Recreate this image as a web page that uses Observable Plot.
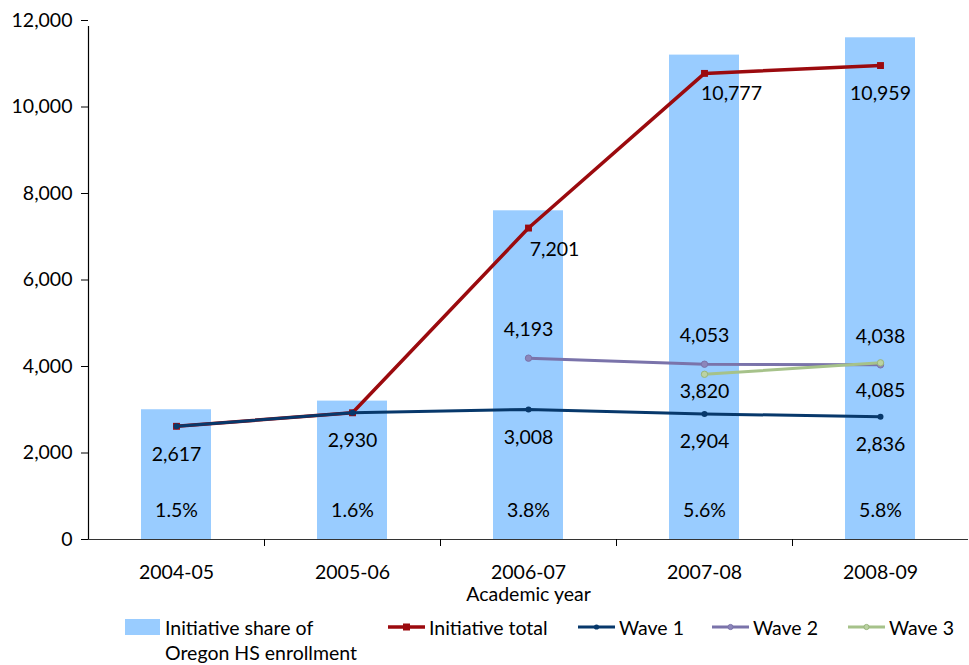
<!DOCTYPE html>
<html>
<head>
<meta charset="utf-8">
<script src="https://cdn.jsdelivr.net/npm/d3@7"></script>
<script src="https://cdn.jsdelivr.net/npm/@observablehq/plot@0.6"></script>
<style>
  body { margin: 0; background: #fff; font-family: Lato, "Open Sans", sans-serif; }
  #chart svg { display: block; }
</style>
</head>
<body>
<div id="chart"></div>
<script>
// Academic years on the x axis
const years = ["2004-05", "2005-06", "2006-07", "2007-08", "2008-09"];
// Initiative share of Oregon HS enrollment (percent), shown as bars
const sharePct = [1.5, 1.6, 3.8, 5.6, 5.8];
// Student counts per series (null = series not yet started)
const initiativeTotal = [2617, 2930, 7201, 10777, 10959];
const wave1 = [2617, 2930, 3008, 2904, 2836];
const wave2 = [null, null, 4193, 4053, 4038];
const wave3 = [null, null, null, 3820, 4085];
// Left axis ticks
const yTicks = [0, 2000, 4000, 6000, 8000, 10000, 12000];

const yMax = 12000;   // top of the count axis
const pctMax = 6;     // percent value that the top of the count axis stands for

const colors = {
  share: "#99CCFF",
  total: "#9B0A0E",
  wave1: "#07386B",
  wave2: "#7A73AA",
  wave3: "#A6C28A"
};
const FONT = 19.5;
const fmt = d3.format(",");

const rowsOf = (vals) =>
  years.map((year, i) => ({year, value: vals[i]})).filter((d) => d.value != null);

const shareRows = years.map((year, i) => ({year, pct: sharePct[i], y: (sharePct[i] / pctMax) * yMax}));
const totalRows = rowsOf(initiativeTotal);
const wave1Rows = rowsOf(wave1);
const wave2Rows = rowsOf(wave2);
const wave3Rows = rowsOf(wave3);

// Label nudges (pixels) so the value labels clear the lines
const totalLabelShift = {"2006-07": [26, 22], "2007-08": [27, 20], "2008-09": [0, 28]};
const wave3LabelShift = {"2007-08": [0, 17], "2008-09": [0, 28]};

const labelAt = (row, dx, dy) =>
  Plot.text([row], {x: "year", y: "value", text: (d) => fmt(d.value), dx, dy, fill: "#000", fontSize: FONT});

const marks = [
  // percent bars
  Plot.barY(shareRows, {x: "year", y: "y", fill: colors.share}),
  Plot.text(shareRows, {x: "year", text: (d) => d.pct.toFixed(1) + "%", frameAnchor: "bottom", dy: -23, fill: "#000", fontSize: FONT}),

  // axes
  Plot.axisY(yTicks, {tickSize: 7, tickPadding: 9, tickFormat: fmt, fontSize: FONT, fill: "#000", stroke: "#000", label: null}),
  Plot.axisX({tickSize: 0, tickPadding: 26, fontSize: FONT, fill: "#000", label: null}),
  Plot.ruleY([0], {stroke: "#333", strokeWidth: 1.2}),
  Plot.ruleX([years[0]], {dx: -88, y1: 0, y2: yMax, insetBottom: -6, stroke: "#000", strokeWidth: 1.2}),
  Plot.ruleX(years.slice(0, 4), {dx: 88, y1: 0, y2: 0, insetBottom: -7, stroke: "#000"}),
  Plot.text(["Academic year"], {frameAnchor: "bottom", dy: 61, fill: "#000", fontSize: FONT}),

  // Initiative total
  Plot.line(totalRows, {x: "year", y: "value", stroke: colors.total, strokeWidth: 3.5}),
  Plot.dot(totalRows, {x: "year", y: "value", symbol: "square", r: 3.9, fill: colors.total}),

  // Wave 2
  Plot.line(wave2Rows, {x: "year", y: "value", stroke: colors.wave2, strokeWidth: 3}),
  Plot.dot(wave2Rows, {x: "year", y: "value", r: 3.2, fill: "#8C86BA", stroke: colors.wave2, strokeWidth: 1}),

  // Wave 3
  Plot.line(wave3Rows, {x: "year", y: "value", stroke: colors.wave3, strokeWidth: 3}),
  Plot.dot(wave3Rows, {x: "year", y: "value", r: 3.2, fill: "#BBD2A3", stroke: "#98B67C", strokeWidth: 1}),

  // Wave 1
  Plot.line(wave1Rows, {x: "year", y: "value", stroke: colors.wave1, strokeWidth: 3}),
  Plot.dot(wave1Rows, {x: "year", y: "value", r: 3, fill: colors.wave1}),

  // value labels
  ...wave1Rows.map((d) => labelAt(d, 0, 28)),
  ...wave2Rows.map((d) => labelAt(d, 0, -28)),
  ...wave3Rows.map((d) => labelAt(d, ...wave3LabelShift[d.year])),
  ...totalRows.filter((d) => totalLabelShift[d.year]).map((d) => labelAt(d, ...totalLabelShift[d.year]))
];

const chart = Plot.plot({
  width: 969,
  height: 615,
  marginTop: 20,
  marginBottom: 76,
  marginLeft: 88,
  marginRight: 1,
  style: {fontFamily: "Lato, 'Open Sans', sans-serif", fontSize: FONT + "px", color: "#000", background: "#fff", overflow: "visible"},
  x: {domain: years, paddingInner: 0.6, paddingOuter: 0.3},
  y: {domain: [0, yMax]},
  marks
});
document.getElementById("chart").append(chart);

// Legend below the plot
const legend = d3.select("#chart").append("svg")
  .attr("width", 969).attr("height", 50)
  .style("font-family", "Lato, 'Open Sans', sans-serif")
  .style("font-size", FONT + "px");

legend.append("rect").attr("x", 125).attr("y", 4).attr("width", 35).attr("height", 16).attr("fill", colors.share);
legend.append("text").attr("x", 165).attr("y", 20).text("Initiative share of");
legend.append("text").attr("x", 165).attr("y", 45).text("Oregon HS enrollment");

const lineItems = [
  {x: 388, label: "Initiative total", color: colors.total, marker: "square", w: 3.5, mfill: colors.total, mstroke: "none"},
  {x: 578, label: "Wave 1", color: colors.wave1, marker: "circle", w: 3, mfill: colors.wave1, mstroke: "none"},
  {x: 712, label: "Wave 2", color: colors.wave2, marker: "circle", w: 3, mfill: "#8C86BA", mstroke: colors.wave2},
  {x: 848, label: "Wave 3", color: colors.wave3, marker: "circle", w: 3, mfill: "#BBD2A3", mstroke: "#98B67C"}
];
for (const it of lineItems) {
  const g = legend.append("g");
  g.append("line").attr("x1", it.x).attr("x2", it.x + 37).attr("y1", 12).attr("y2", 12)
    .attr("stroke", it.color).attr("stroke-width", it.w);
  if (it.marker === "square") {
    g.append("rect").attr("x", it.x + 15).attr("y", 8.5).attr("width", 7).attr("height", 7).attr("fill", it.mfill);
  } else {
    g.append("circle").attr("cx", it.x + 18.5).attr("cy", 12).attr("r", 2.6)
      .attr("fill", it.mfill).attr("stroke", it.mstroke);
  }
  g.append("text").attr("x", it.x + 41).attr("y", 20).text(it.label);
}
</script>
</body>
</html>
